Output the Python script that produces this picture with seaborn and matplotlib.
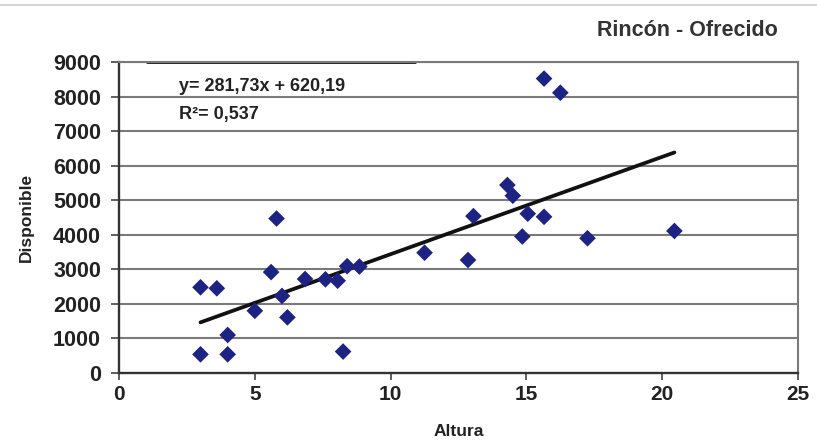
import matplotlib
matplotlib.use("Agg")
import matplotlib.pyplot as plt
import seaborn as sns
import numpy as np
import pandas as pd
from matplotlib.lines import Line2D

# Data
altura = [3.0, 3.6, 4.0, 3.0, 4.0, 5.0, 5.6, 5.8, 6.0, 6.2, 6.85, 7.6, 8.05, 8.4,
          8.85, 8.25, 11.25, 15.65, 16.25, 14.3, 14.5, 13.05, 15.05, 15.65, 14.85,
          17.25, 20.45, 12.85]
disponible = [2480, 2450, 1100, 540, 540, 1800, 2920, 4470, 2230, 1610, 2720, 2710,
              2670, 3090, 3080, 620, 3480, 8520, 8110, 5440, 5130, 4540, 4610, 4520,
              3950, 3900, 4110, 3270]

# Linear trend given on the chart
pendiente = 281.73
intercepto = 620.19
r2 = 0.537

titulo = "Rincón - Ofrecido"
x_ticks = [0, 5, 10, 15, 20, 25]
y_ticks = [0, 1000, 2000, 3000, 4000, 5000, 6000, 7000, 8000, 9000]

df = pd.DataFrame({"Altura": altura, "Disponible": disponible})
x_line = np.array([min(altura), max(altura)])
trend = pd.DataFrame({"Altura": x_line, "Disponible": pendiente * x_line + intercepto})

sns.set_style("white")
plt.rcParams['font.family'] = ['Liberation Sans', 'DejaVu Sans']

fig = plt.figure(figsize=(8.17, 4.4), dpi=100)
ax = fig.add_axes([0.1457, 0.1523, 0.8310, 0.7068])

grid_c = "#7a7a7a"
for yt in y_ticks[1:]:
    ax.axhline(yt, color=grid_c, lw=1.5, zorder=0)
ax.axhline(9000, xmin=0.041, xmax=0.436, color="#111111", lw=2, zorder=1)

sns.lineplot(data=trend, x="Altura", y="Disponible", color="#111111", lw=2.7, ax=ax, zorder=2)
sns.scatterplot(data=df, x="Altura", y="Disponible", marker="D", s=72, color="#1c2383",
                edgecolor="none", ax=ax, zorder=3)

ax.set_xlim(0, 25)
ax.set_ylim(0, 9000)
ax.set_xticks(x_ticks)
ax.set_yticks(y_ticks)
ax.set_xticklabels([str(v) for v in x_ticks], fontsize=15, fontweight="bold",
                   color="#222222")
ax.set_yticklabels([str(v) for v in y_ticks], fontsize=15.5, fontweight="bold", color="#222222")
ax.tick_params(axis="x", direction="out", length=5, width=1.2, color="#444444",
               bottom=True, pad=4)
ax.tick_params(axis="y", direction="out", length=6, width=1.2, color="#444444",
               left=True, pad=7)

for side in ["top", "right"]:
    ax.spines[side].set_color(grid_c)
    ax.spines[side].set_linewidth(1.5)
for side in ["left", "bottom"]:
    ax.spines[side].set_color("#333333")
    ax.spines[side].set_linewidth(1.7)

ax.set_xlabel("Altura", fontsize=12.5, fontweight="bold", color="#222222", labelpad=14)
ax.set_ylabel("Disponible", fontsize=12.5, fontweight="bold", color="#222222", labelpad=14)

eq = f"y= {pendiente:.2f}x + {intercepto:.2f}".replace(".", ",")
ax.text(0.088, 0.92, eq, transform=ax.transAxes, fontsize=13, fontweight="bold",
        color="#222222", va="center")
ax.text(0.088, 0.83, f"R²= {r2:.3f}".replace(".", ","), transform=ax.transAxes,
        fontsize=13, fontweight="bold", color="#222222", va="center")

fig.text(0.952, 0.93, titulo, fontsize=15.5, fontweight="bold", color="#333333",
         ha="right", va="center")
fig.add_artist(Line2D([0, 1], [0.988, 0.988], color="#cccccc", lw=1.2,
                      transform=fig.transFigure))

fig.savefig("out.png", dpi=100)
